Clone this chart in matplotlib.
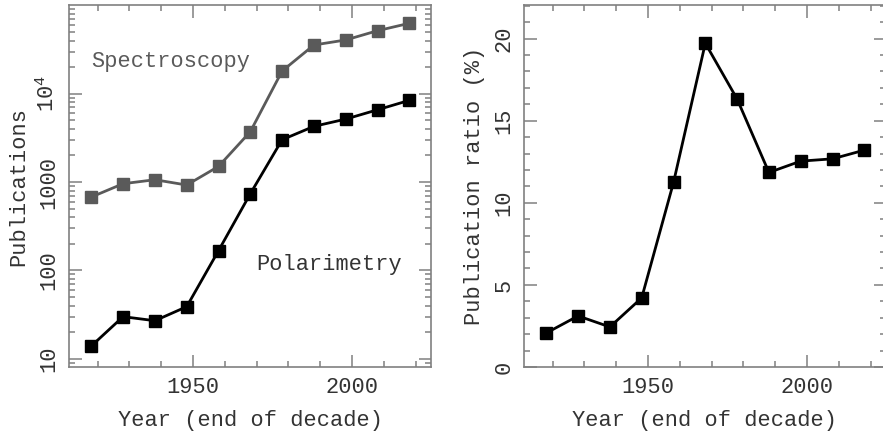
import numpy as np
import matplotlib
matplotlib.use("Agg")
import matplotlib.pyplot as plt
from matplotlib.ticker import FixedLocator, MultipleLocator, LogLocator, NullFormatter, FixedFormatter

plt.rcParams["font.family"] = ["Liberation Mono", "DejaVu Sans Mono"]
plt.rcParams["mathtext.fontset"] = "custom"
plt.rcParams["mathtext.rm"] = "Liberation Mono"

# decade end years and publication counts
years = [1918, 1928, 1938, 1948, 1958, 1968, 1978, 1988, 1998, 2008, 2018]
spectroscopy = [676, 957, 1062, 925, 1502, 3715, 18070, 35600, 40600, 51700, 62700]
polarimetry = [13.9, 29.9, 26.9, 38.8, 167, 737, 3013, 4270, 5160, 6580, 8410]
ratio_pct = [2.07, 3.11, 2.44, 4.21, 11.24, 19.72, 16.32, 11.85, 12.54, 12.68, 13.21]

AX_COL = "#808080"
TXT = "#333333"
GREY = "#5a5a5a"
FS = 15.8

W, H = 883, 436
fig = plt.figure(figsize=(W / 100, H / 100), dpi=100)
axL = fig.add_axes([69 / W, (H - 367) / H, 362 / W, 362 / H])
axR = fig.add_axes([524 / W, (H - 367) / H, 362 / W, 362 / H])


def style(ax):
    for s in ax.spines.values():
        s.set_color(AX_COL)
        s.set_linewidth(1.2)
    ax.tick_params(which="both", direction="in", top=True, right=True,
                   color=AX_COL, labelcolor=TXT, labelsize=FS, width=1.1)
    ax.tick_params(which="major", length=9, pad=7)
    ax.tick_params(which="minor", length=4.5)
    ax.xaxis.set_major_locator(FixedLocator([1900, 1950, 2000]))
    ax.xaxis.set_minor_locator(MultipleLocator(10))
    ax.set_xlim(1911, 2024.8)
    ax.set_xlabel("Year (end of decade)", fontsize=FS, color=TXT, labelpad=9)
    for lab in ax.get_yticklabels():
        lab.set_rotation(90)
        lab.set_va("center")


# left panel: counts on a log axis
axL.plot(years, spectroscopy, color=GREY, lw=2, marker="s", ms=8,
         mfc=GREY, mec=GREY)
axL.plot(years, polarimetry, color="black", lw=2, marker="s", ms=8,
         mfc="black", mec="black")
axL.set_yscale("log")
axL.set_ylim(8.05, 1.01e5)
axL.yaxis.set_major_locator(FixedLocator([10, 100, 1000, 1e4]))
axL.yaxis.set_major_formatter(FixedFormatter(["10", "100", "1000", r"$\mathregular{10^4}$"]))
axL.yaxis.set_minor_locator(LogLocator(base=10, subs=np.arange(2, 10)))
axL.yaxis.set_minor_formatter(NullFormatter())
axL.set_ylabel("Publications", fontsize=FS, color=TXT, labelpad=5)
style(axL)
axL.text(1918, 22900, "Spectroscopy", fontsize=FS, color=GREY, va="center", ha="left")
axL.text(1970, 115, "Polarimetry", fontsize=FS, color=TXT, va="center", ha="left")

# right panel: polarimetry / spectroscopy ratio
axR.plot(years, ratio_pct, color="black", lw=2, marker="s", ms=8,
         mfc="black", mec="black")
axR.set_ylim(0, 22.05)
axR.yaxis.set_major_locator(MultipleLocator(5))
axR.yaxis.set_minor_locator(MultipleLocator(1))
axR.set_ylabel("Publication ratio (%)", fontsize=FS, color=TXT, labelpad=6)
style(axR)

fig.savefig("out.png", dpi=100)
